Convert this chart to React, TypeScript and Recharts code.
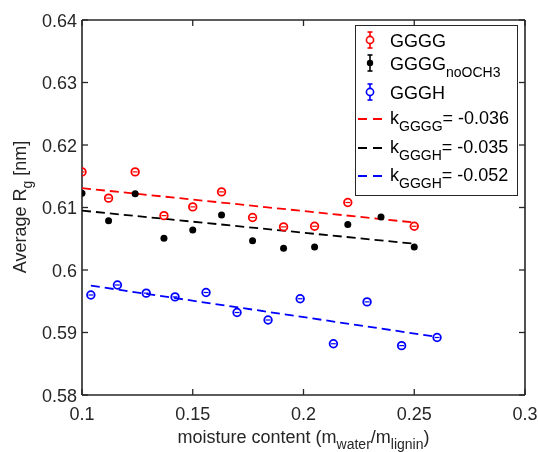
import React from 'react';
import { ScatterChart, Scatter, XAxis, YAxis, Legend, Label } from 'recharts';

const xGGGG = [0.1, 0.112, 0.124, 0.137, 0.15, 0.163, 0.177, 0.191, 0.205, 0.22, 0.25];
const yGGGG = [0.6157, 0.6115, 0.6157, 0.6087, 0.6101, 0.6125, 0.6084, 0.6069, 0.607, 0.6108, 0.607];

const xNoOCH3 = [0.1, 0.112, 0.124, 0.137, 0.15, 0.163, 0.177, 0.191, 0.205, 0.22, 0.235, 0.25];
const yNoOCH3 = [0.6123, 0.6079, 0.6122, 0.6051, 0.6064, 0.6088, 0.6047, 0.6035, 0.6037, 0.6073, 0.6085, 0.6037];

const xGGGH = [0.104, 0.116, 0.129, 0.142, 0.156, 0.17, 0.184, 0.1985, 0.2135, 0.2287, 0.2443, 0.2603];
const yGGGH = [0.596, 0.5976, 0.5963, 0.5957, 0.5964, 0.5932, 0.592, 0.5954, 0.5882, 0.5949, 0.5879, 0.5892];

// linear fit end points
const fitXGGGG = [0.1, 0.25];
const fitYGGGG = [0.6131, 0.6076];
const fitXNoOCH3 = [0.1, 0.25];
const fitYNoOCH3 = [0.6095, 0.6042];
const fitXGGGH = [0.104, 0.2603];
const fitYGGGH = [0.5975, 0.5893];

const xTicks = [0.1, 0.15, 0.2, 0.25, 0.3];
const yTicks = [0.58, 0.59, 0.6, 0.61, 0.62, 0.63, 0.64];

const slopeLabels = ['-0.036', '-0.035', '-0.052'];

const zip = (xs: number[], ys: number[]) => xs.map((x, i) => ({ x, y: ys[i] }));

const RED = '#ff0000';
const BLUE = '#0000ff';
const BLACK = '#000000';
const AXIS = '#262626';
const FONT = '"Liberation Sans", Arial, sans-serif';
const TICK_LEN = 6;

const openMarker = (color: string) => (props: any) => {
  const { cx, cy } = props;
  return (
    <g>
      <circle cx={cx} cy={cy} r={3.8} fill="none" stroke={color} strokeWidth={1.8} />
      <line x1={cx - 2.4} x2={cx + 2.4} y1={cy} y2={cy} stroke={color} strokeWidth={1.2} />
    </g>
  );
};

const dotMarker = (props: any) => <circle cx={props.cx} cy={props.cy} r={3.5} fill={BLACK} />;

const noMarker = () => <g />;

const BottomTick = (props: any) => {
  const { x, y, payload } = props;
  return (
    <g>
      <line x1={x} x2={x} y1={y} y2={y - TICK_LEN} stroke={AXIS} strokeWidth={1.3} />
      <text x={x} y={y + 25} textAnchor="middle" fontSize={18} fill={AXIS} fontFamily={FONT}>
        {payload.value}
      </text>
    </g>
  );
};

const LeftTick = (props: any) => {
  const { x, y, payload } = props;
  return (
    <g>
      <line x1={x} x2={x + TICK_LEN} y1={y} y2={y} stroke={AXIS} strokeWidth={1.3} />
      <text x={x - 5} y={y + 6.5} textAnchor="end" fontSize={18} fill={AXIS} fontFamily={FONT}>
        {payload.value}
      </text>
    </g>
  );
};

const TopTick = (props: any) => {
  const { x, y } = props;
  return <line x1={x} x2={x} y1={y} y2={y + TICK_LEN} stroke={AXIS} strokeWidth={1.3} />;
};

const RightTick = (props: any) => {
  const { x, y } = props;
  return <line x1={x} x2={x - TICK_LEN} y1={y} y2={y} stroke={AXIS} strokeWidth={1.3} />;
};

const XTitle = (props: any) => {
  const { x, y, width } = props.viewBox;
  return (
    <text x={x + width / 2} y={y + 48} textAnchor="middle" fontSize={18} fill={AXIS} fontFamily={FONT}>
      moisture content (m
      <tspan fontSize={14} dy={6}>water</tspan>
      <tspan dy={-6}>/m</tspan>
      <tspan fontSize={14} dy={6}>lignin</tspan>
      <tspan dy={-6}>)</tspan>
    </text>
  );
};

const YTitle = () => {
  const cx = 18;
  const cy = 199;
  return (
    <text
      x={cx}
      y={cy}
      transform={`rotate(-90, ${cx}, ${cy})`}
      textAnchor="middle"
      fontSize={18}
      fill={AXIS}
      fontFamily={FONT}
    >
      Average R
      <tspan fontSize={14} dy={6}>g</tspan>
      <tspan dy={-6}>{'  [nm]'}</tspan>
    </text>
  );
};

const ErrSymbol = ({ y, color, filled }: { y: number; color: string; filled: boolean }) => (
  <g>
    <line x1={15} x2={15} y1={y - 8} y2={y + 8} stroke={color} strokeWidth={1.6} />
    <line x1={12.5} x2={17.5} y1={y - 8} y2={y - 8} stroke={color} strokeWidth={1.6} />
    <line x1={12.5} x2={17.5} y1={y + 8} y2={y + 8} stroke={color} strokeWidth={1.6} />
    {filled ? (
      <circle cx={15} cy={y} r={3.2} fill={color} />
    ) : (
      <circle cx={15} cy={y} r={3.6} fill="#fff" stroke={color} strokeWidth={1.6} />
    )}
  </g>
);

const DashSymbol = ({ y, color }: { y: number; color: string }) => (
  <line x1={3} x2={27} y1={y} y2={y} stroke={color} strokeWidth={1.8} strokeDasharray="9 6" />
);

const renderLegend = () => {
  const rows = [15, 38, 67, 94, 123, 151];
  const tx = 35;
  const sub = { fontSize: 14 };
  return (
    <div
      style={{
        width: 163,
        height: 171,
        boxSizing: 'border-box',
        border: `1.5px solid ${AXIS}`,
        background: '#fff',
      }}
    >
      <svg width={160} height={168} style={{ display: 'block', marginLeft: -1.5, marginTop: -1.5 }}>
        <g fontFamily={FONT} fontSize={18} fill="#000">
          <ErrSymbol y={rows[0]} color={RED} filled={false} />
          <text x={tx} y={rows[0] + 6.5}>GGGG</text>

          <ErrSymbol y={rows[1]} color={BLACK} filled />
          <text x={tx} y={rows[1] + 6.5}>
            GGGG<tspan {...sub} dy={7}>noOCH3</tspan>
          </text>

          <ErrSymbol y={rows[2]} color={BLUE} filled={false} />
          <text x={tx} y={rows[2] + 6.5}>GGGH</text>

          <DashSymbol y={rows[3]} color={RED} />
          <text x={tx} y={rows[3] + 4.5}>
            k<tspan {...sub} dy={7}>GGGG</tspan>
            <tspan dy={-7}>= {slopeLabels[0]}</tspan>
          </text>

          <DashSymbol y={rows[4]} color={BLACK} />
          <text x={tx} y={rows[4] + 4.5}>
            k<tspan {...sub} dy={7}>GGGH</tspan>
            <tspan dy={-7}>= {slopeLabels[1]}</tspan>
          </text>

          <DashSymbol y={rows[5]} color={BLUE} />
          <text x={tx} y={rows[5] + 4.5}>
            k<tspan {...sub} dy={7}>GGGH</tspan>
            <tspan dy={-7}>= {slopeLabels[2]}</tspan>
          </text>
        </g>
      </svg>
    </div>
  );
};

const fitLine = (color: string) => ({
  stroke: color,
  strokeWidth: 1.8,
  strokeDasharray: '9 5',
});

const axisLine = { stroke: AXIS, strokeWidth: 1.6 };

export default function App() {
  // fixed so the page never gets a scrollbar
  return (
    <div style={{ position: 'fixed', top: 8, left: 8, fontFamily: FONT }}>
      <ScatterChart width={530} height={444} margin={{ top: 11, right: 12, bottom: 0, left: 0 }}>
        <XAxis
          type="number"
          dataKey="x"
          domain={[0.1, 0.3]}
          ticks={xTicks}
          allowDataOverflow
          height={57}
          tickSize={0}
          tickMargin={0}
          tick={BottomTick}
          axisLine={axisLine}
          label={<Label content={XTitle} />}
        />
        <XAxis
          xAxisId="top"
          orientation="top"
          type="number"
          dataKey="x"
          domain={[0.1, 0.3]}
          ticks={xTicks}
          allowDataOverflow
          height={1}
          tickSize={0}
          tickMargin={0}
          tick={TopTick}
          axisLine={axisLine}
        />
        <YAxis
          type="number"
          dataKey="y"
          domain={[0.58, 0.64]}
          ticks={yTicks}
          allowDataOverflow
          width={74}
          tickSize={0}
          tickMargin={0}
          tick={LeftTick}
          axisLine={axisLine}
          label={<Label content={YTitle} />}
        />
        <YAxis
          yAxisId="right"
          orientation="right"
          type="number"
          dataKey="y"
          domain={[0.58, 0.64]}
          ticks={yTicks}
          allowDataOverflow
          width={1}
          tickSize={0}
          tickMargin={0}
          tick={RightTick}
          axisLine={axisLine}
        />

        {/* invisible series so the box axes (top/right) get drawn */}
        <Scatter
          xAxisId="top"
          yAxisId="right"
          data={zip(fitXGGGG, fitYGGGG)}
          shape={noMarker}
          isAnimationActive={false}
          legendType="none"
        />

        <Scatter
          data={zip(fitXGGGG, fitYGGGG)}
          line={fitLine(RED)}
          stroke={RED}
          shape={noMarker}
          isAnimationActive={false}
        />
        <Scatter
          data={zip(fitXNoOCH3, fitYNoOCH3)}
          line={fitLine(BLACK)}
          stroke={BLACK}
          shape={noMarker}
          isAnimationActive={false}
        />
        <Scatter
          data={zip(fitXGGGH, fitYGGGH)}
          line={fitLine(BLUE)}
          stroke={BLUE}
          shape={noMarker}
          isAnimationActive={false}
        />

        <Scatter data={zip(xGGGG, yGGGG)} shape={openMarker(RED)} isAnimationActive={false} />
        <Scatter data={zip(xNoOCH3, yNoOCH3)} shape={dotMarker} isAnimationActive={false} />
        <Scatter data={zip(xGGGH, yGGGH)} shape={openMarker(BLUE)} isAnimationActive={false} />

        <Legend
          layout="vertical"
          align="center"
          verticalAlign="middle"
          content={renderLegend}
          wrapperStyle={{ top: 17, left: 347, width: 163, height: 171 }}
        />
      </ScatterChart>
    </div>
  );
}
